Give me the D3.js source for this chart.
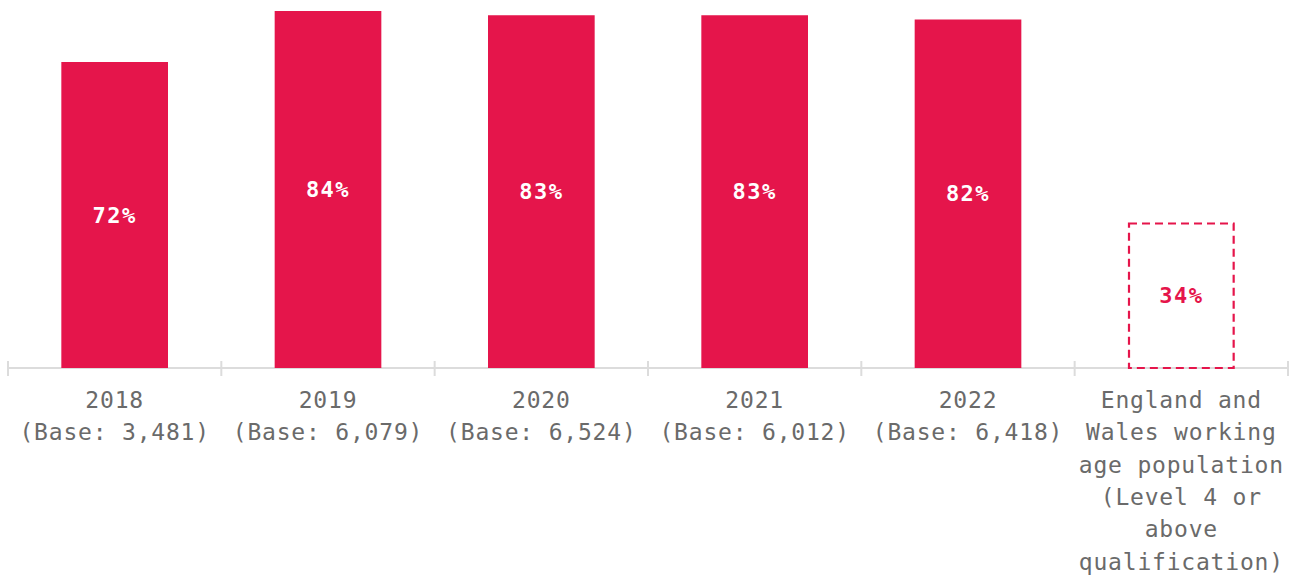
<!DOCTYPE html>
<html>
<head>
<meta charset="utf-8">
<script src="https://cdn.jsdelivr.net/npm/d3@7"></script>
<style>
  body { margin: 0; background: #fff; }
  text { font-family: "DejaVu Sans Mono", monospace; }
</style>
</head>
<body>
<svg width="1291" height="576"></svg>
<script>
var categories = ["2018", "2019", "2020", "2021", "2022", "ew"];
var catLabels = [
  ["2018", "(Base: 3,481)"],
  ["2019", "(Base: 6,079)"],
  ["2020", "(Base: 6,524)"],
  ["2021", "(Base: 6,012)"],
  ["2022", "(Base: 6,418)"],
  ["England and", "Wales working", "age population", "(Level 4 or", "above", "qualification)"]
];
var values = [72, 84, 83, 83, 82, 34];
var dashed = [false, false, false, false, false, true];

var red = "#e5154b";
var svg = d3.select("svg");

var x = d3.scaleBand().domain(categories).range([8, 1288]).paddingInner(0.5).paddingOuter(0.25);
var y = d3.scaleLinear().domain([0, 100]).range([368, -57]);

// axis line + ticks
var axis = svg.append("g");
axis.append("line")
  .attr("x1", 8).attr("x2", 1288)
  .attr("y1", 368).attr("y2", 368)
  .attr("stroke", "#dcdcdc").attr("stroke-width", 2);
var step = x.step();
var tickXs = d3.range(categories.length + 1).map(function(i){ return 8 + i * step; });
axis.selectAll(".tick").data(tickXs).enter().append("line")
  .attr("x1", function(d){ return d; }).attr("x2", function(d){ return d; })
  .attr("y1", 361).attr("y2", 376)
  .attr("stroke", "#dcdcdc").attr("stroke-width", 2);

// bars
var data = categories.map(function(c, i){ return {cat: c, v: values[i], dashed: dashed[i]}; });

svg.selectAll("rect.bar").data(data.filter(function(d){ return !d.dashed; })).enter()
  .append("rect")
  .attr("class", "bar")
  .attr("x", function(d){ return x(d.cat); })
  .attr("y", function(d){ return y(d.v); })
  .attr("width", x.bandwidth())
  .attr("height", function(d){ return y(0) - y(d.v); })
  .attr("fill", red);

svg.selectAll("rect.dash").data(data.filter(function(d){ return d.dashed; })).enter()
  .append("rect")
  .attr("class", "dash")
  .attr("x", function(d){ return x(d.cat) + 1; })
  .attr("y", function(d){ return y(d.v); })
  .attr("width", x.bandwidth() - 2)
  .attr("height", function(d){ return y(0) - y(d.v); })
  .attr("fill", "none")
  .attr("stroke", red)
  .attr("stroke-width", 2.2)
  .attr("stroke-dasharray", "8,5");

// value labels
svg.selectAll("text.val").data(data).enter()
  .append("text")
  .attr("class", "val")
  .attr("x", function(d){ return x(d.cat) + x.bandwidth() / 2; })
  .attr("y", function(d){ return (y(d.v) + y(0)) / 2; })
  .attr("text-anchor", "middle")
  .attr("dominant-baseline", "central")
  .attr("font-size", 22)
  .attr("letter-spacing", 1.5)
  .attr("font-weight", "bold")
  .attr("fill", function(d){ return d.dashed ? red : "#fff"; })
  .text(function(d){ return d.v + "%"; });

// category labels
var lbl = svg.selectAll("text.cat").data(categories).enter()
  .append("text")
  .attr("class", "cat")
  .attr("text-anchor", "middle")
  .attr("font-size", 23)
  .attr("letter-spacing", 0.8)
  .attr("fill", "#6a6a6a");
lbl.selectAll("tspan").data(function(d, i){ return catLabels[i].map(function(t){ return {t: t, c: d}; }); })
  .enter().append("tspan")
  .attr("x", function(d){ return x(d.c) + x.bandwidth() / 2; })
  .attr("y", function(d, j){ return 408 + j * 32.3; })
  .text(function(d){ return d.t; });
</script>
</body>
</html>
